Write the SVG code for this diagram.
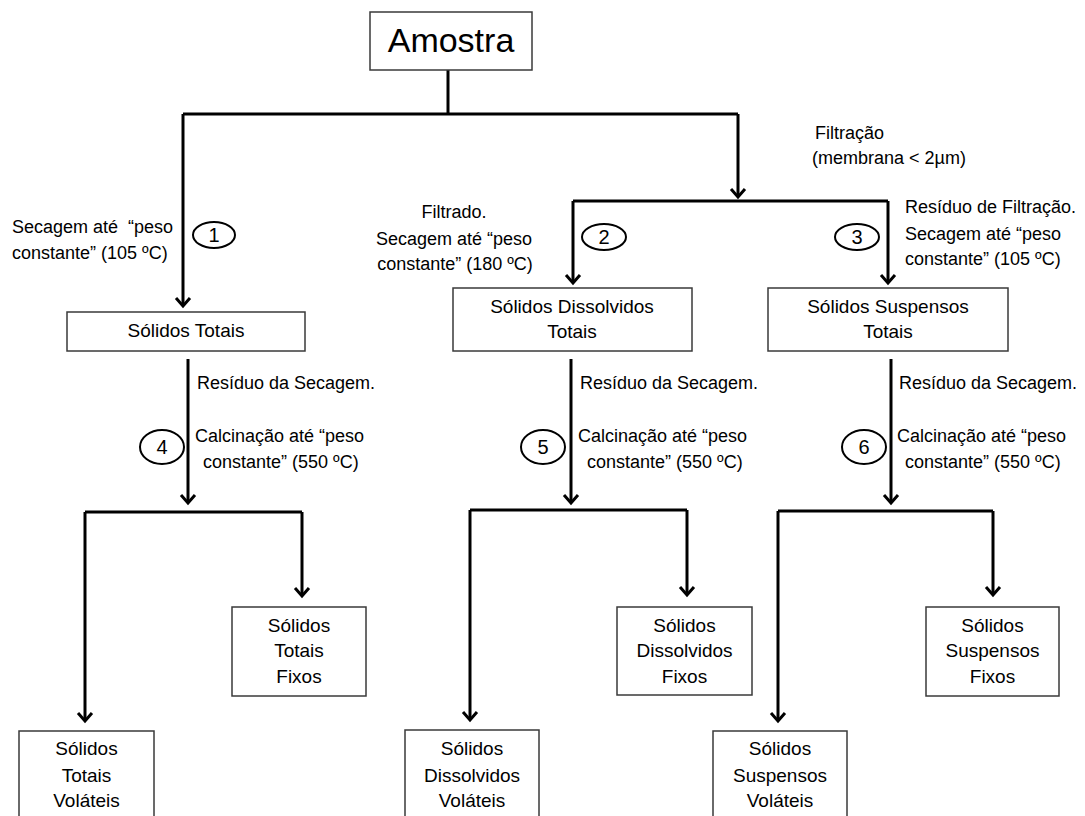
<svg xmlns="http://www.w3.org/2000/svg" width="1085" height="816" viewBox="0 0 1085 816">
<defs>
<marker id="arr" markerUnits="userSpaceOnUse" markerWidth="24" markerHeight="24" viewBox="-12 -12 24 24" refX="0" refY="0" orient="auto" overflow="visible">
<path d="M-8,-7 L0,0 L-8,7" fill="none" stroke="#000" stroke-width="3"/>
</marker>
<style>
.box{fill:#fff;stroke:#3a3a3a;stroke-width:1.5}
.c{fill:none;stroke:#000;stroke-width:3}
.a{fill:none;stroke:#000;stroke-width:3;marker-end:url(#arr)}
.el{fill:none;stroke:#000;stroke-width:2}
text{font-family:"Liberation Sans",Arial,sans-serif;font-size:18px;fill:#000}
.m{text-anchor:middle;font-size:19px}
.n{font-size:20px;text-anchor:middle}
</style>
</defs>
<rect width="1085" height="816" fill="#fff"/>

<g id="connectors">
<path class="c" d="M448,70 V114"/>
<path class="c" d="M183,114 H738"/>
<path class="a" d="M183,114 V306"/>
<path class="a" d="M738,114 V197"/>
<path class="c" d="M573,201 H888"/>
<path class="a" d="M573,201 V283"/>
<path class="a" d="M888,201 V283"/>
<path class="a" d="M188,359 V503"/>
<path class="c" d="M85,512 H302"/>
<path class="a" d="M85,512 V721"/>
<path class="a" d="M302,512 V596"/>
<path class="a" d="M571,359 V503"/>
<path class="c" d="M470,510 H687"/>
<path class="a" d="M470,510 V720"/>
<path class="a" d="M687,510 V595"/>
<path class="a" d="M891,359 V503"/>
<path class="c" d="M778,511 H993"/>
<path class="a" d="M778,511 V721"/>
<path class="a" d="M993,511 V595"/>
</g>

<g id="amostra">
<rect class="box" x="370" y="12" width="162" height="58"/>
<text x="451" y="52" class="m" style="font-size:34px">Amostra</text>
</g>

<g id="label-filtracao">
<text x="815" y="139">Filtração</text>
<text x="812" y="164">(membrana &lt; 2µm)</text>
</g>

<g id="label-1">
<text x="12" y="233">Secagem até &#160;“peso</text>
<text x="12" y="259">constante” (105 ºC)</text>
<ellipse class="el" cx="214" cy="235" rx="21" ry="13"/>
<text x="214" y="242" class="n">1</text>
</g>

<g id="label-2">
<text x="454" y="218" text-anchor="middle">Filtrado.</text>
<text x="454" y="245" text-anchor="middle">Secagem até “peso</text>
<text x="455" y="270" text-anchor="middle">constante” (180 ºC)</text>
<ellipse class="el" cx="604" cy="237" rx="22" ry="13"/>
<text x="604" y="244" class="n">2</text>
</g>

<g id="label-3">
<text x="905" y="213">Resíduo de Filtração.</text>
<text x="905" y="240">Secagem até “peso</text>
<text x="905" y="265">constante” (105 ºC)</text>
<ellipse class="el" cx="857" cy="237" rx="22" ry="13"/>
<text x="857" y="244" class="n">3</text>
</g>

<g id="solidos-totais">
<rect class="box" x="67" y="312" width="238" height="39"/>
<text x="186" y="337" class="m">Sólidos Totais</text>
</g>

<g id="solidos-dissolvidos-totais">
<rect class="box" x="453" y="288" width="239" height="63"/>
<text x="572" y="313" class="m">Sólidos Dissolvidos</text>
<text x="572" y="338" class="m">Totais</text>
</g>

<g id="solidos-suspensos-totais">
<rect class="box" x="768" y="288" width="240" height="63"/>
<text x="888" y="313" class="m">Sólidos Suspensos</text>
<text x="888" y="338" class="m">Totais</text>
</g>

<g id="label-4">
<text x="197" y="389">Resíduo da Secagem.</text>
<text x="195" y="442">Calcinação até “peso</text>
<text x="203" y="468">constante” (550 ºC)</text>
<ellipse class="el" cx="162" cy="447" rx="22" ry="17"/>
<text x="162" y="454" class="n">4</text>
</g>

<g id="label-5">
<text x="580" y="389">Resíduo da Secagem.</text>
<text x="578" y="442">Calcinação até “peso</text>
<text x="587" y="468">constante” (550 ºC)</text>
<ellipse class="el" cx="543" cy="447" rx="22" ry="17"/>
<text x="543" y="454" class="n">5</text>
</g>

<g id="label-6">
<text x="899" y="389">Resíduo da Secagem.</text>
<text x="897" y="442">Calcinação até “peso</text>
<text x="905" y="468">constante” (550 ºC)</text>
<ellipse class="el" cx="864" cy="447" rx="22" ry="17"/>
<text x="864" y="454" class="n">6</text>
</g>

<g id="solidos-totais-fixos">
<rect class="box" x="232" y="607" width="134" height="89"/>
<text x="299" y="632" class="m">Sólidos</text>
<text x="299" y="657" class="m">Totais</text>
<text x="299" y="683" class="m">Fixos</text>
</g>

<g id="solidos-totais-volateis">
<rect class="box" x="19" y="731" width="135" height="95"/>
<text x="86.5" y="755" class="m">Sólidos</text>
<text x="86.5" y="782" class="m">Totais</text>
<text x="86.5" y="807" class="m">Voláteis</text>
</g>

<g id="solidos-dissolvidos-fixos">
<rect class="box" x="617" y="607" width="135" height="88"/>
<text x="684.5" y="632" class="m">Sólidos</text>
<text x="684.5" y="657" class="m">Dissolvidos</text>
<text x="684.5" y="683" class="m">Fixos</text>
</g>

<g id="solidos-dissolvidos-volateis">
<rect class="box" x="405" y="730" width="134" height="96"/>
<text x="472" y="755" class="m">Sólidos</text>
<text x="472" y="782" class="m">Dissolvidos</text>
<text x="472" y="807" class="m">Voláteis</text>
</g>

<g id="solidos-suspensos-fixos">
<rect class="box" x="926" y="607" width="133" height="89"/>
<text x="992.5" y="632" class="m">Sólidos</text>
<text x="992.5" y="657" class="m">Suspensos</text>
<text x="992.5" y="683" class="m">Fixos</text>
</g>

<g id="solidos-suspensos-volateis">
<rect class="box" x="713" y="731" width="134" height="95"/>
<text x="780" y="755" class="m">Sólidos</text>
<text x="780" y="782" class="m">Suspensos</text>
<text x="780" y="807" class="m">Voláteis</text>
</g>
</svg>
